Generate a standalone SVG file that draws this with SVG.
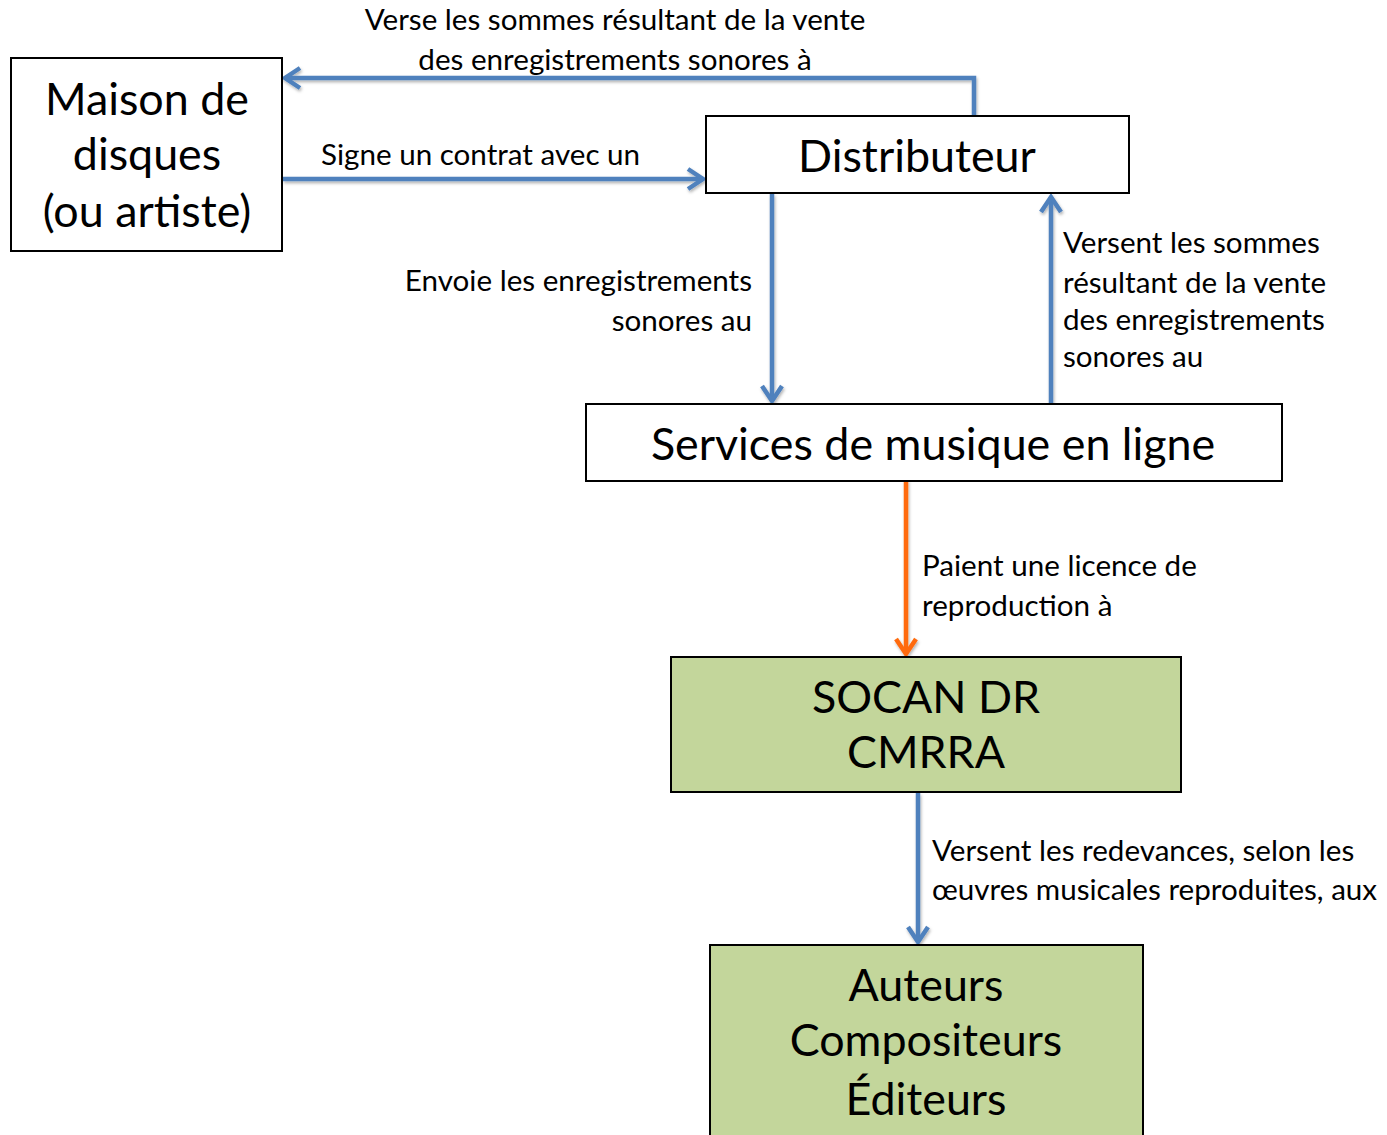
<svg xmlns="http://www.w3.org/2000/svg" width="1387" height="1135" viewBox="0 0 1387 1135">
<style>
.box{stroke:#000;stroke-width:2}
.w{fill:#fff}
.g{fill:#C3D69B}
.big{font-family:Lato,"Open Sans",sans-serif;font-size:44.8px;fill:#000;text-anchor:middle}
.lbl{font-family:Lato,"Open Sans",sans-serif;font-size:29.6px;fill:#000}
.c{fill:none;stroke-width:4.5;stroke-linejoin:miter}
.b{stroke:#4F81BD}
.o{stroke:#FF6A0F}
</style>
<defs>
<filter id="sh" x="-20%" y="-20%" width="140%" height="140%">
<feDropShadow dx="1" dy="2" stdDeviation="1.5" flood-color="#000" flood-opacity="0.3"/>
</filter>
</defs>
<rect width="1387" height="1135" fill="#fff"/>
<g id="connectors" filter="url(#sh)">
<polyline class="c b" points="974,116 974,78 285,78"/>
<polyline class="c b" points="300,68 285,78 300,88"/>
<polyline class="c b" points="283,179 703,179"/>
<polyline class="c b" points="688,169 703,179 688,189"/>
<polyline class="c b" points="772,194 772,401"/>
<polyline class="c b" points="762,386 772,401 782,386"/>
<polyline class="c b" points="1051,404 1051,197"/>
<polyline class="c b" points="1041,212 1051,197 1061,212"/>
<polyline class="c o" points="906,480 906,654"/>
<polyline class="c o" points="896,639 906,654 916,639"/>
<polyline class="c b" points="918,793 918,942"/>
<polyline class="c b" points="908,927 918,942 928,927"/>
</g>
<g id="labels">
<text class="lbl" x="615" y="30" text-anchor="middle">Verse les sommes résultant de la vente</text>
<text class="lbl" x="615" y="70" text-anchor="middle">des enregistrements sonores à</text>
<text class="lbl" x="321" y="165">Signe un contrat avec un</text>
<text class="lbl" x="752" y="291" text-anchor="end">Envoie les enregistrements</text>
<text class="lbl" x="752" y="331" text-anchor="end">sonores au</text>
<text class="lbl" x="1063" y="253">Versent les sommes</text>
<text class="lbl" x="1063" y="293">résultant de la vente</text>
<text class="lbl" x="1063" y="330">des enregistrements</text>
<text class="lbl" x="1063" y="367">sonores au</text>
<text class="lbl" x="922" y="576">Paient une licence de</text>
<text class="lbl" x="922" y="616">reproduction à</text>
<text class="lbl" x="932" y="861">Versent les redevances, selon les</text>
<text class="lbl" x="932" y="900">œuvres musicales reproduites, aux</text>
</g>
<g id="maison">
<rect class="box w" x="11" y="58" width="271" height="193"/>
<text class="big" x="147" y="115">Maison de</text>
<text class="big" x="147" y="170">disques</text>
<text class="big" x="147" y="227">(ou artiste)</text>
</g>
<g id="distributeur">
<rect class="box w" x="706" y="116" width="423" height="77"/>
<text class="big" x="917" y="172">Distributeur</text>
</g>
<g id="services">
<rect class="box w" x="586" y="404" width="696" height="77"/>
<text class="big" x="933" y="460">Services de musique en ligne</text>
</g>
<g id="socan">
<rect class="box g" x="671" y="657" width="510" height="135"/>
<text class="big" x="926" y="713">SOCAN DR</text>
<text class="big" x="926" y="768">CMRRA</text>
</g>
<g id="auteurs">
<rect class="box g" x="710" y="945" width="433" height="200"/>
<text class="big" x="926" y="1001">Auteurs</text>
<text class="big" x="926" y="1056">Compositeurs</text>
<text class="big" x="926" y="1115">Éditeurs</text>
</g>
</svg>
